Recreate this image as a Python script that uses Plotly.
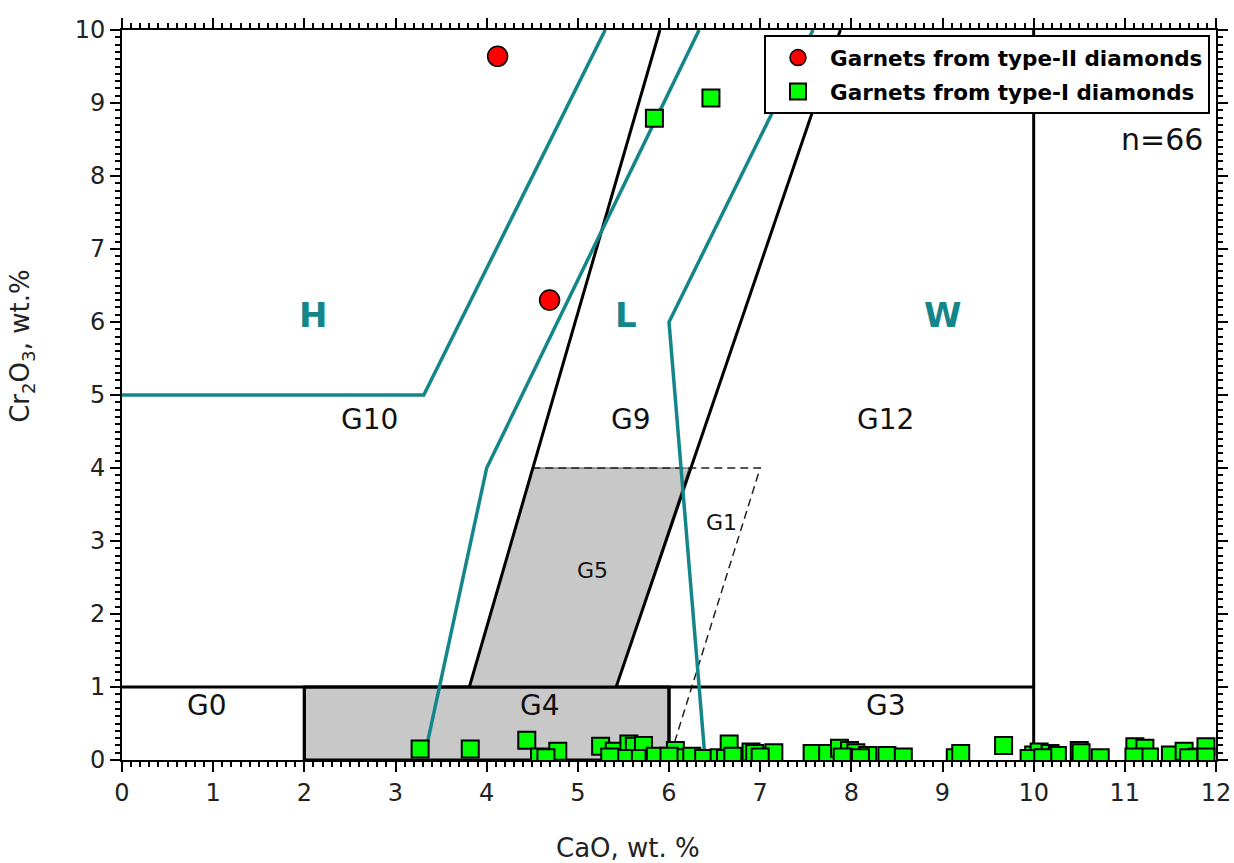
import plotly.graph_objects as go

# ---- data ----
type2_cao = [4.12, 4.69]
type2_cr = [9.64, 6.30]

type1_cao = [5.84, 6.46,
             3.27, 3.82, 4.44, 4.58, 4.78, 5.25, 5.40, 5.45, 5.56, 5.62, 5.72, 5.65, 5.50,
             6.07, 6.15, 6.25, 6.38, 6.55, 6.66, 6.62, 6.78, 6.90, 6.94, 7.15, 7.57, 7.74,
             7.87, 7.98, 8.05, 8.18, 8.39, 8.57, 9.14, 9.20, 9.67, 10.00, 10.06, 10.18,
             10.26, 10.50, 10.52, 10.73, 11.11, 11.22, 11.27, 11.50, 11.65, 11.80, 11.89,
             11.89, 4.65, 5.35, 5.85, 6.00, 7.00, 7.90, 8.10, 9.95, 10.10, 11.10, 11.70, 6.70]
type1_cr = [8.79, 9.07,
            0.15, 0.15, 0.27, 0.04, 0.12, 0.19, 0.12, 0.03, 0.22, 0.19, 0.20, 0.02, 0.02,
            0.13, 0.03, 0.05, 0.02, 0.03, 0.22, 0.02, 0.04, 0.11, 0.09, 0.10, 0.09, 0.09,
            0.16, 0.13, 0.10, 0.06, 0.06, 0.04, 0.03, 0.09, 0.20, 0.07, 0.11, 0.09,
            0.06, 0.13, 0.10, 0.03, 0.18, 0.16, 0.04, 0.07, 0.12, 0.04, 0.18,
            0.04, 0.03, 0.04, 0.05, 0.05, 0.04, 0.04, 0.03, 0.02, 0.03, 0.04, 0.03, 0.05]

# G-classification field boundaries (Grütter et al.)
g4_x = [2, 6, 6, 2, 2]
g4_y = [0, 0, 1, 1, 0]
g5_x = [3.81, 5.42, 6.22, 4.50, 3.81]
g5_y = [1, 1, 4, 4, 1]
g10_line_x = [3.81, 5.90]
g10_line_y = [1, 10]
g12_line_x = [5.42, 7.88]
g12_line_y = [1, 10]
g1_x = [4.50, 7.0, 6.0]
g1_y = [4, 4, 0]
hline_x = [0, 10]
hline_y = [1, 1]
v10_x = [10, 10]
v10_y = [0, 10]
v2_x = [2, 2]
v2_y = [0, 1]
v6_x = [6, 6]
v6_y = [0, 1]

# H / L / W boundaries (Sobolev)
h_x = [0, 3.31, 5.30]
h_y = [5, 5, 10]
l_x = [3.33, 4.00, 6.33]
l_y = [0.12, 4, 10]
w_x = [6.39, 6.00, 7.58]
w_y = [0.10, 6, 10]

field_labels = ["G10", "G9", "G12", "G0", "G4", "G3"]
field_lx = [2.72, 5.58, 8.38, 0.93, 4.58, 8.38]
field_ly = [4.66, 4.66, 4.66, 0.74, 0.74, 0.74]
small_labels = ["G5", "G1"]
small_lx = [5.16, 6.58]
small_ly = [2.6, 3.25]
rock_labels = ["H", "L", "W"]
rock_lx = [2.1, 5.53, 9.0]
rock_ly = [6.1, 6.1, 6.1]

TEAL = "#14868A"
GRAY = "#C8C8C8"
FONT = "DejaVu Sans, Arial, sans-serif"

fig = go.Figure()

def line(x, y, color="black", width=3, dash=None, fill=None, fillcolor=None):
    fig.add_trace(go.Scatter(x=x, y=y, mode="lines", showlegend=False, hoverinfo="skip",
                             line=dict(color=color, width=width, dash=dash),
                             fill=fill, fillcolor=fillcolor))

line(g4_x, g4_y, width=3, fill="toself", fillcolor=GRAY)
line(g5_x, g5_y, color="#555555", width=1, fill="toself", fillcolor=GRAY)
line(g1_x, g1_y, color="#222222", width=1.5, dash="8px,5px")
line(g10_line_x, g10_line_y)
line(g12_line_x, g12_line_y)
line(hline_x, hline_y)
line(v10_x, v10_y)
line(v2_x, v2_y)
line(v6_x, v6_y)
line(h_x, h_y, color=TEAL, width=3.5)
line(l_x, l_y, color=TEAL, width=3.5)
line(w_x, w_y, color=TEAL, width=3.5)

fig.add_trace(go.Scatter(x=type2_cao, y=type2_cr, mode="markers",
                         name="Garnets from type-II diamonds", legendgroup="a",
                         marker=dict(symbol="circle", size=20, color="#FF0000",
                                     line=dict(color="black", width=1.5))))
fig.add_trace(go.Scatter(x=type1_cao, y=type1_cr, mode="markers",
                         name="Garnets from type-I diamonds", legendgroup="b",
                         marker=dict(symbol="square", size=17, color="#00FF00",
                                     line=dict(color="black", width=2))))

for t, x, y in zip(field_labels, field_lx, field_ly):
    fig.add_annotation(x=x, y=y, text=t, showarrow=False, font=dict(size=28, color="#111", family=FONT))
for t, x, y in zip(small_labels, small_lx, small_ly):
    fig.add_annotation(x=x, y=y, text=t, showarrow=False, font=dict(size=22, color="#111", family=FONT))
for t, x, y in zip(rock_labels, rock_lx, rock_ly):
    fig.add_annotation(x=x, y=y, text="<b>" + t + "</b>", showarrow=False,
                       font=dict(size=34, color=TEAL, family=FONT))
fig.add_annotation(x=11.41, y=8.5, text="n=66", showarrow=False,
                   font=dict(size=30, color="#111", family=FONT))

fig.add_annotation(xref="paper", yref="paper", x=0.4625, y=-0.121, xanchor="center", yanchor="middle",
                   text="CaO, wt. %", showarrow=False, font=dict(size=26, color="#222", family=FONT))
fig.add_annotation(xref="paper", yref="paper", x=-0.0914, y=0.566, xanchor="center", yanchor="middle",
                   text="Cr<sub>2</sub>O<sub>3</sub>, wt.%", textangle=-90,
                   showarrow=False, font=dict(size=26, color="#222", family=FONT))

axis_common = dict(showgrid=False, zeroline=False, showline=True, linecolor="black", linewidth=2,
                   mirror="ticks", ticks="outside", ticklen=10, tickwidth=2, tickcolor="black",
                   automargin=False,
                   tickfont=dict(size=24, color="#222", family=FONT),
                   minor=dict(ticks="outside", ticklen=5, tickwidth=1.5, tickcolor="black", dtick=0.1))

fig.update_xaxes(range=[0, 12], dtick=1, tick0=0, **axis_common)
fig.update_yaxes(range=[0, 10], dtick=1, tick0=0, **axis_common)

fig.update_layout(
    width=1234, height=863,
    margin=dict(l=122, r=18, t=30, b=103),
    plot_bgcolor="white", paper_bgcolor="white",
    font=dict(family=FONT),
    legend=dict(x=0.9945, xanchor="right", y=0.993, yanchor="top",
                bgcolor="white", bordercolor="black", borderwidth=2,
                font=dict(size=21.5, color="black", family=FONT, weight="bold"),
                itemsizing="trace", tracegroupgap=3, itemwidth=54),
)

fig.write_html("out.html")
